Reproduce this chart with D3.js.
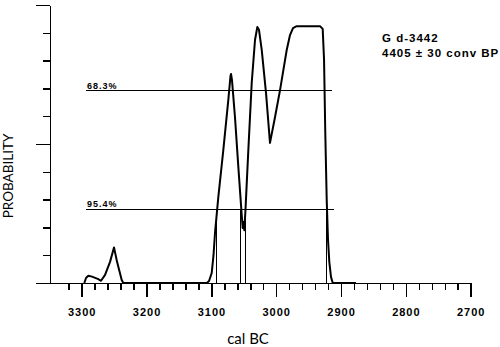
<!DOCTYPE html>
<meta charset="utf-8">
<script src="https://d3js.org/d3.v7.min.js"></script>
<style>
  body { margin: 0; background: #fff; }
</style>
<div id="my_dataviz"></div>
<script>

    // calibrated date (cal BC) and probability (0-10 units, one per y tick)
    var years = [3296, 3293.4, 3289.8, 3284.1, 3274.4, 3270.2, 3264, 3256.3, 3250.2, 3245.5, 3238.3, 3235.8,
                 3107, 3103.6, 3099.5, 3096.7, 3094.4, 3089.3, 3081.6, 3073.9, 3070.5, 3069.7, 3068.2,
                 3063.6, 3058.4, 3053.2, 3051.7, 3050.4, 3049.2, 3047.4, 3043, 3037.8, 3032.7, 3029.1,
                 3026.5, 3022.3, 3015.7, 3009.6, 3001.8, 2994.1, 2983.8, 2978.7, 2974.1, 2968.4, 2932.4,
                 2928.3, 2926.2, 2924.3, 2922.1, 2920.1, 2918.1, 2915.5, 2912.8, 2877];
    var probs = [0, 0.18, 0.26, 0.23, 0.14, 0.08, 0.29, 0.76, 1.28, 0.76, 0.11, 0,
                 0, 0.07, 0.36, 1.0, 1.8, 3.09, 4.78, 6.58, 7.45, 7.52, 7.3,
                 5.97, 4.17, 2.45, 1.98, 2.19, 1.9, 2.63, 4.78, 7.19, 8.74, 9.21,
                 9.1, 8.38, 6.83, 5.04, 5.97, 6.94, 8.38, 8.92, 9.17, 9.24, 9.24,
                 9.14, 8.02, 5.4, 2.99, 1.55, 0.76, 0.22, 0, 0];

    // confidence levels
    var levelNames = ["68.3%", "95.4%"];
    var levelValues = [6.91, 2.66];
    var levelStart = [3293.4, 3293.4];
    var levelEnd = [2913.9, 2910.8];

    // 95.4% range boundaries
    var rangeYears = [3092, 3054.7, 3048.1, 2922.4];

    var xTicks = [3300, 3200, 3100, 3000, 2900, 2800, 2700];
    var xMinor = d3.range(3320, 2699, -20);
    var yMinor = d3.range(0, 11);
    var yMajor = [0, 5, 10];

    var sampleName = "G d-3442";
    var sampleAge = "4405 \u00b1 30 conv BP";

    var width = 500, height = 347;

    var svg = d3.select("#my_dataviz")
      .append("svg")
        .attr("width", width)
        .attr("height", height);

    var x = d3.scaleLinear()
      .domain([3350, 2700])
      .range([49.3, 470.7]);

    var y = d3.scaleLinear()
      .domain([0, 10])
      .range([283, 5]);

    // X axis: minor ticks, then major ticks with labels
    svg.append("g")
      .attr("transform", "translate(0,283)")
      .call(d3.axisBottom(x).tickValues(xMinor).tickSize(7).tickSizeOuter(0).tickFormat(""))
      .call(function (g) { g.select(".domain").remove(); });

    var xAxis = svg.append("g")
      .attr("transform", "translate(0,283)")
      .call(d3.axisBottom(x).tickValues(xTicks).tickSize(14).tickSizeOuter(0).tickPadding(11.5).tickFormat(d3.format("d")));
    xAxis.selectAll("text")
      .attr("font-family", "'Liberation Sans', Arial, sans-serif")
      .attr("font-weight", "bold")
      .attr("font-size", "11px")
      .attr("letter-spacing", "1px")
      .attr("fill", "#000");

    // Y axis
    svg.append("g")
      .attr("transform", "translate(50,0)")
      .call(d3.axisLeft(y).tickValues(yMinor).tickSize(7).tickSizeOuter(0).tickFormat(""));
    svg.append("g")
      .attr("transform", "translate(50,0)")
      .call(d3.axisLeft(y).tickValues(yMajor).tickSize(14.5).tickSizeOuter(0).tickFormat(""))
      .call(function (g) { g.select(".domain").remove(); });

    svg.selectAll(".domain, .tick line")
      .attr("stroke", "#000")
      .attr("stroke-width", 1.5)
      .attr("shape-rendering", "crispEdges");

    // confidence level lines
    levelNames.forEach(function (name, i) {
      svg.append("line")
        .attr("x1", x(levelStart[i]))
        .attr("x2", x(levelEnd[i]))
        .attr("y1", y(levelValues[i]))
        .attr("y2", y(levelValues[i]))
        .attr("stroke", "#000")
        .attr("stroke-width", 1)
        .attr("shape-rendering", "crispEdges");
      svg.append("text")
        .attr("x", x(levelStart[i]) + 1)
        .attr("y", y(levelValues[i]) - 2)
        .attr("font-family", "'Liberation Sans', Arial, sans-serif")
        .attr("font-weight", "bold")
        .attr("font-size", "9px")
        .attr("letter-spacing", "1px")
        .text(name);
    });

    // range boundaries down to the baseline
    svg.selectAll(".range")
      .data(rangeYears)
      .enter()
      .append("line")
        .attr("x1", function (d) { return x(d); })
        .attr("x2", function (d) { return x(d); })
        .attr("y1", y(levelValues[1]))
        .attr("y2", y(0))
        .attr("stroke", "#000")
        .attr("stroke-width", 1)
        .attr("shape-rendering", "crispEdges");

    // probability curve
    var line = d3.line()
      .x(function (d) { return x(d[0]); })
      .y(function (d) { return y(d[1]); });

    svg.append("path")
      .datum(d3.zip(years, probs))
      .attr("d", line)
      .attr("fill", "none")
      .attr("stroke", "#000")
      .attr("stroke-width", 2)
      .attr("stroke-linejoin", "round");

    // axis titles
    svg.append("text")
      .attr("x", 248)
      .attr("y", 344)
      .attr("text-anchor", "middle")
      .attr("font-family", "Lato, sans-serif")
      .attr("font-size", "15px")
      .text("cal BC");

    svg.append("text")
      .attr("transform", "translate(13,176) rotate(-90)")
      .attr("text-anchor", "middle")
      .attr("font-family", "Lato, sans-serif")
      .attr("font-size", "13.5px")
      .text("PROBABILITY");

    // sample label
    svg.append("text")
      .attr("x", 382)
      .attr("y", 42)
      .attr("font-family", "'Liberation Sans', Arial, sans-serif")
      .attr("font-weight", "bold")
      .attr("font-size", "11.5px")
      .attr("letter-spacing", "1px")
      .text(sampleName);

    svg.append("text")
      .attr("x", 382)
      .attr("y", 57)
      .attr("font-family", "'Liberation Sans', Arial, sans-serif")
      .attr("font-weight", "bold")
      .attr("font-size", "11.5px")
      .attr("letter-spacing", "1px")
      .text(sampleAge);

</script>
